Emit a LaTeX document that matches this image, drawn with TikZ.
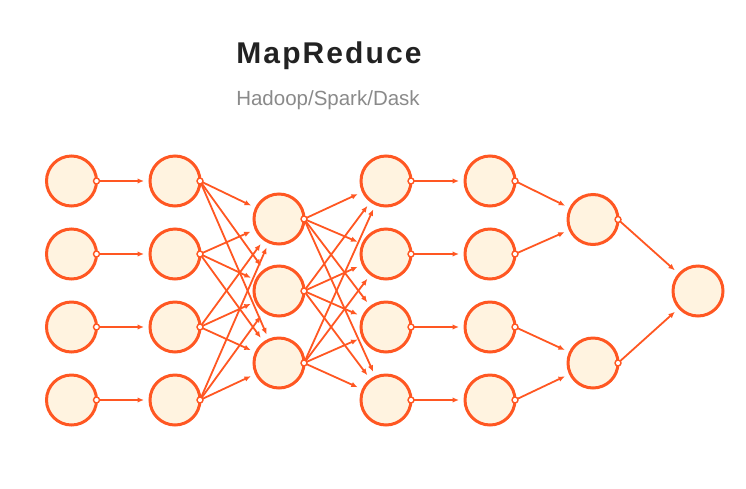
\documentclass[tikz,border=0pt]{standalone}
\usepackage{fontspec}
\setmainfont{Liberation Sans}
\usetikzlibrary{arrows.meta}
\definecolor{orng}{HTML}{FF5722}
\definecolor{cream}{HTML}{FFF3E0}
\definecolor{ttl}{HTML}{222222}
\definecolor{subc}{HTML}{8A8A8A}
\begin{document}
\begin{tikzpicture}[x=1pt,y=-1pt,
 nd/.style={circle,draw=orng,fill=cream,line width=3pt,minimum size=50pt,inner sep=0pt,outer sep=0pt},
 link/.style={draw=orng,line width=1.8pt,-{Latex[length=6.5pt,width=5.5pt]},shorten >=6pt},
 port/.style={circle,draw=orng,fill=white,line width=1.4pt,minimum size=6pt,inner sep=0pt}]
\useasboundingbox (0,0) rectangle (746,488);
\node[anchor=base,text=ttl,font=\fontsize{30}{33}\selectfont\bfseries\addfontfeature{LetterSpace=7}] (title) at (329,63) {MapReduce};
\node[anchor=base,text=subc,font=\fontsize{20.5}{22}\selectfont] (subtitle) at (328,105) {Hadoop/Spark/Dask};
% nodes
\foreach \i/\y in {1/181,2/254,3/327,4/400}{
  \node[nd] (a\i) at (71.5,\y) {};
  \node[nd] (b\i) at (175,\y) {};
  \node[nd] (d\i) at (386,\y) {};
  \node[nd] (e\i) at (490,\y) {};
}
\foreach \i/\y in {1/219,2/291,3/363}{
  \node[nd] (c\i) at (279,\y) {};
}
\node[nd] (f1) at (593,219.5) {};
\node[nd] (f2) at (593,363) {};
\node[nd] (g) at (698,291) {};
% links
\foreach \i in {1,...,4}{
  \draw[link] (a\i.east) -- (b\i);
  \draw[link] (d\i.east) -- (e\i);
  \foreach \j in {1,2,3}{
    \draw[link] (b\i.east) -- (c\j);
    \draw[link] (c\j.east) -- (d\i);
  }
}
\draw[link] (e1.east) -- (f1);
\draw[link] (e2.east) -- (f1);
\draw[link] (e3.east) -- (f2);
\draw[link] (e4.east) -- (f2);
\draw[link] (f1.east) -- (g);
\draw[link] (f2.east) -- (g);
% ports
\foreach \n in {a1,a2,a3,a4,b1,b2,b3,b4,c1,c2,c3,d1,d2,d3,d4,e1,e2,e3,e4,f1,f2}{
  \node[port] (p\n) at (\n.east) {};
}
\end{tikzpicture}
\end{document}
